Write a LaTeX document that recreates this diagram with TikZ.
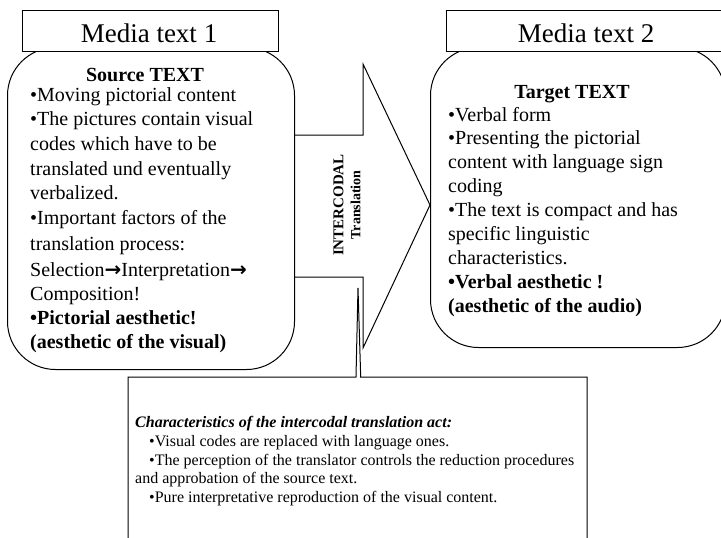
\documentclass[tikz,border=0pt]{standalone}
\usepackage{fontspec}
\setmainfont{Liberation Serif}
\newfontfamily\arrowglyph{DejaVu Sans}
\newcommand{\steparrow}{{\arrowglyph\bfseries →}}
\begin{document}
\begin{tikzpicture}[x=1pt,y=-1pt]
\tikzset{
  frame/.style={draw=black, line width=1pt, fill=white, inner sep=0},
  body/.style={anchor=base west, inner sep=0, font=\fontsize{20}{24}\selectfont},
  bodyb/.style={body, font=\fontsize{20}{24}\selectfont\bfseries},
  headline/.style={anchor=base, inner sep=0, font=\fontsize{20}{24}\selectfont\bfseries},
  titletext/.style={anchor=base, inner sep=0, font=\fontsize{27}{32}\selectfont},
  note/.style={anchor=base west, inner sep=0, font=\fontsize{16}{19}\selectfont},
}
\useasboundingbox[fill=white] (0,0) rectangle (721,538);

% broad arrow between the two text blocks
\draw[line width=1pt, fill=white, line join=miter]
  (250,135) -- (363,135) -- (363,64) -- (430,205) -- (363,348)
  -- (363,277) -- (250,277) -- cycle;
\node[rotate=90, align=center, inner sep=0, font=\fontsize{15}{17}\selectfont\bfseries]
  (mode) at (347,205) {INTERCODAL\\{\fontsize{14}{17}\selectfont Translation}};

% rounded text blocks
\node[frame, rounded corners=48pt, minimum width=287pt, minimum height=322pt,
  anchor=north west] (srcbox) at (7,47) {};
\node[frame, rounded corners=48pt, minimum width=295pt, minimum height=300pt,
  anchor=north west] (tgtbox) at (430,47) {};

% title tabs
\node[frame, minimum width=256pt, minimum height=41pt, anchor=north west]
  (tab1) at (22,10) {};
\node[frame, minimum width=284pt, minimum height=41pt, anchor=north west]
  (tab2) at (446,10) {};
\node[titletext] (title1) at (149,42) {Media text 1};
\node[titletext] (title2) at (586,42) {Media text 2};

% source text
\node[headline] (srchead) at (145,81) {Source TEXT};
\node[body] (s1) at (30,101) {•Moving pictorial content};
\node[body] (s2) at (30,125.5) {•The pictures contain visual};
\node[body] (s3) at (30,150.2) {codes which have to be};
\node[body] (s4) at (30,175) {translated und eventually};
\node[body] (s5) at (30,199.7) {verbalized.};
\node[body] (s6) at (30,224.5) {•Important factors of the};
\node[body] (s7) at (30,250.5) {translation process:};
\node[body] (s8) at (30,276) {Selection\steparrow Interpretation\steparrow};
\node[body] (s9) at (30,300.5) {Composition!};
\node[bodyb] (s10) at (30,324.8) {•Pictorial aesthetic!};
\node[bodyb] (s11) at (30,348.5) {(aesthetic of the visual)};

% target text
\node[headline] (tgthead) at (572,98) {Target TEXT};
\node[body] (t1) at (448,121) {•Verbal form};
\node[body] (t2) at (448,144.9) {•Presenting the pictorial};
\node[body] (t3) at (448,168.8) {content with language sign};
\node[body] (t4) at (448,192.7) {coding};
\node[body] (t5) at (448,216.6) {•The text is compact and has};
\node[body] (t6) at (448,240.5) {specific linguistic};
\node[body] (t7) at (448,264.4) {characteristics.};
\node[bodyb] (t8) at (448,288.3) {•Verbal aesthetic !};
\node[bodyb] (t9) at (448,312.2) {(aesthetic of the audio)};

% callout with its thin pointer
\draw[line width=1pt, fill=white, line join=miter]
  (128,377) -- (356,377) -- (358,288) -- (360.7,377) -- (587,377)
  -- (587,560) -- (128,560) -- cycle;
\node[note, font=\fontsize{16}{19}\selectfont\bfseries\itshape] (c0) at (135,427)
  {Characteristics of the intercodal translation act:};
\node[note] (c1) at (149,446) {•Visual codes are replaced with language ones.};
\node[note] (c2) at (149,465) {•The perception of the translator controls the reduction procedures};
\node[note] (c3) at (135,483.5) {and approbation of the source text.};
\node[note] (c4) at (149,502) {•Pure interpretative reproduction of the visual content.};
\end{tikzpicture}
\end{document}
